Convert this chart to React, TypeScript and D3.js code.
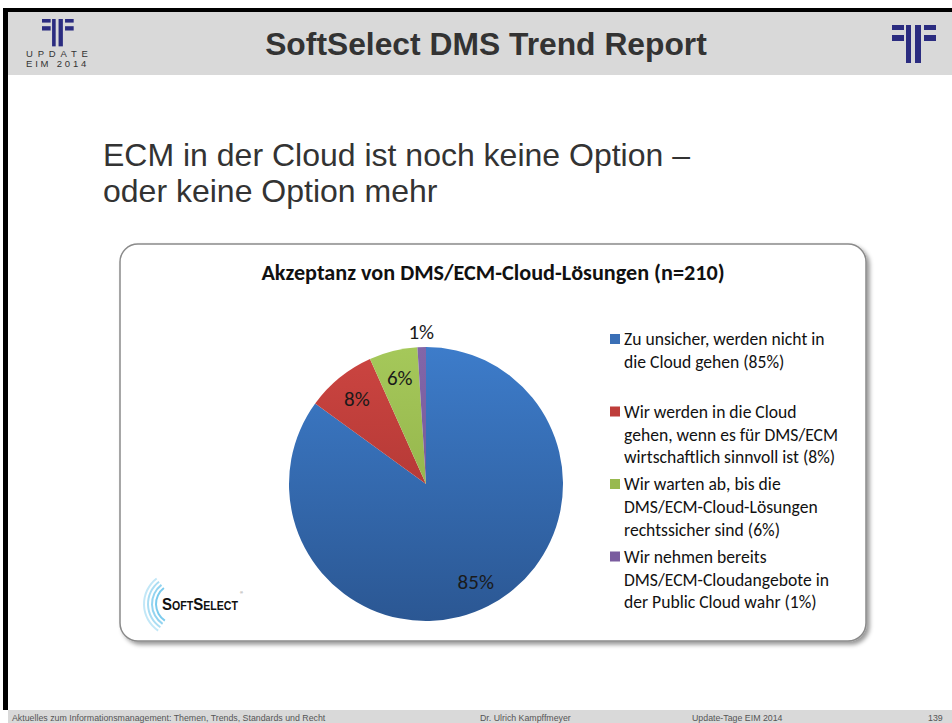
import React from "react";
import * as d3 from "d3";

// chart values
const categories = ["Zu unsicher", "Cloud wenn sinnvoll", "Abwarten", "Bereits Public Cloud"];
const values = [85, 8.3, 5.7, 1.0];
const sliceLabels = ["85%", "8%", "6%", "1%"];
const legendLines = [
  ["Zu unsicher, werden nicht in", "die Cloud gehen (85%)"],
  ["Wir werden in die Cloud", "gehen, wenn es für DMS/ECM", "wirtschaftlich sinnvoll ist (8%)"],
  ["Wir warten ab, bis die", "DMS/ECM-Cloud-Lösungen", "rechtssicher sind (6%)"],
  ["Wir nehmen bereits", "DMS/ECM-Cloudangebote in", "der Public Cloud wahr (1%)"],
];
const colorsTop = ["#3d7cca", "#cc4541", "#a5c85a", "#8266a8"];
const colorsBottom = ["#2b5793", "#a12f2c", "#88a641", "#6c4f90"];
const legendColors = ["#3a6fb6", "#be3d3a", "#98b94e", "#7a5c9f"];

const chartTitle = "Akzeptanz von DMS/ECM-Cloud-Lösungen (n=210)";
const slideTitle = "SoftSelect DMS Trend Report";
const headline = ["ECM in der Cloud ist noch keine Option –", "oder keine Option mehr"];
const footer = [
  "Aktuelles zum Informationsmanagement: Themen, Trends, Standards und Recht",
  "Dr. Ulrich Kampffmeyer",
  "Update-Tage EIM 2014",
  "139",
];

const W = 952;
const H = 723;
const NAVY = "#2b2c80";
const ARIAL = "'Liberation Sans', Arial, sans-serif";

const Logo = ({ x, y, s }: { x: number; y: number; s: number }) => (
  <g transform={`translate(${x},${y}) scale(${s})`} fill={NAVY}>
    <rect x={0} y={0} width={12} height={5} />
    <rect x={0} y={10} width={12} height={6} />
    <rect x={14} y={0} width={5} height={38} />
    <rect x={23} y={0} width={6} height={38} />
    <rect x={32} y={0} width={12} height={5} />
    <rect x={32} y={10} width={12} height={6} />
  </g>
);

const SoftSelectLogo = ({ x, y }: { x: number; y: number }) => {
  const radii = [19, 23, 27, 31];
  return (
    <g>
      <g transform={`translate(${x},${y})`}>
        {radii.map((r, i) => (
          <path
            key={i}
            d={d3.arc()({ innerRadius: r, outerRadius: r + 2, startAngle: -2.55, endAngle: -0.65 }) || ""}
            fill="#74c8ec"
            opacity={0.95 - i * 0.17}
          />
        ))}
      </g>
      <text
        x={162}
        y={610}
        textLength={76}
        lengthAdjust="spacingAndGlyphs"
        fontFamily={ARIAL}
        fontWeight="bold"
        fontVariant="small-caps"
        fill="#111"
        fontSize={17}
      >
        SoftSelect
      </text>
      <text x={240} y={594} fontSize={4} fill="#666" fontFamily="sans-serif">®</text>
    </g>
  );
};

export default function App() {
  const cx = 426;
  const cy = 484;
  const r = 137;

  const pie = d3.pie<number>().sort(null).value((d) => d);
  const arcs = pie(values);
  const arcGen = d3.arc<d3.PieArcDatum<number>>().innerRadius(0).outerRadius(r);
  const labelArc = d3.arc<d3.PieArcDatum<number>>().innerRadius(r * 0.8).outerRadius(r * 0.8);
  const outerLabelArc = d3.arc<d3.PieArcDatum<number>>().innerRadius(r + 16).outerRadius(r + 16);

  const legendY = d3.scaleLinear().domain([0, 1]).range([339, 411.5]);
  const lineH = 22.7;

  const calibri = "Carlito, 'Open Sans', sans-serif";

  return (
    <svg
      width={W}
      height={H}
      viewBox={`0 0 ${W} ${H}`}
      style={{ position: "absolute", left: 0, top: 0, background: "#fff" }}
    >
      <defs>
        {colorsTop.map((c, i) => (
          <linearGradient key={i} id={`g${i}`} gradientUnits="userSpaceOnUse" x1={0} y1={-r} x2={0} y2={r}>
            <stop offset="0%" stopColor={c} />
            <stop offset="100%" stopColor={colorsBottom[i]} />
          </linearGradient>
        ))}
        <filter id="shadow" x="-5%" y="-5%" width="112%" height="115%">
          <feDropShadow dx={3} dy={3} stdDeviation={2.2} floodColor="#000" floodOpacity={0.4} />
        </filter>
      </defs>

      {/* slide frame */}
      <rect x={0} y={0} width={W} height={H} fill="#fff" />
      <rect x={8} y={12} width={W - 8} height={63} fill="#d9d9d9" />
      <rect x={3} y={8} width={W - 3} height={4} fill="#000" />
      <rect x={3} y={8} width={5} height={702} fill="#000" />
      <rect x={8} y={710} width={W - 8} height={13} fill="#d9d9d9" />

      {/* header */}
      <Logo x={42} y={19} s={0.72} />
      <text x={26} y={57} fontFamily={ARIAL} fontSize={9.5} letterSpacing={4.8} fill="#333">
        UPDATE
      </text>
      <text x={26} y={67} fontFamily={ARIAL} fontSize={9.5} letterSpacing={2.8} fill="#333">
        EIM 2014
      </text>
      <text x={486} y={55} textAnchor="middle" fontFamily={ARIAL} fontWeight="bold" fontSize={31.8} fill="#333">
        {slideTitle}
      </text>
      <Logo x={892} y={25} s={1} />

      {/* headline */}
      {headline.map((t, i) => (
        <text key={i} x={103} y={166 + i * 36} fontFamily={ARIAL} fontSize={32} fill="#333">
          {t}
        </text>
      ))}

      {/* chart area */}
      <rect x={120} y={244} width={746} height={397} rx={18} fill="#fff" stroke="#8a8a8a" strokeWidth={1.5} filter="url(#shadow)" />
      <text x={493} y={280} textAnchor="middle" fontFamily={calibri} fontWeight="bold" fontSize={22.2} fill="#111">
        {chartTitle}
      </text>

      <g transform={`translate(${cx},${cy})`}>
        {arcs.map((a, i) => (
          <path key={categories[i]} d={arcGen(a) || ""} fill={`url(#g${i})`} />
        ))}
        {arcs.map((a, i) => {
          const [lx, ly] = a.endAngle - a.startAngle < 0.1 ? outerLabelArc.centroid(a) : labelArc.centroid(a);
          return (
            <text key={i} x={lx} y={ly} dy="0.36em" textAnchor="middle" fontFamily={calibri} fontSize={21} fill="#1a1a1a">
              {sliceLabels[i]}
            </text>
          );
        })}
      </g>

      <g>
        {legendLines.map((lines, i) => {
          const y0 = legendY(i);
          return (
            <g key={i}>
              <rect x={610} y={y0 - 5} width={10} height={10} fill={legendColors[i]} />
              {lines.map((t, j) => (
                <text key={j} x={624} y={y0 + j * lineH} dy="0.36em" fontFamily={calibri} fontSize={17.6} fill="#111">
                  {t}
                </text>
              ))}
            </g>
          );
        })}
      </g>

      <SoftSelectLogo x={176} y={604} />

      {/* footer */}
      {footer.map((t, i) => (
        <text key={i} x={[12, 480, 692, 928][i]} y={721} fontFamily={ARIAL} fontSize={8.8} fill="#555">
          {t}
        </text>
      ))}
    </svg>
  );
}
